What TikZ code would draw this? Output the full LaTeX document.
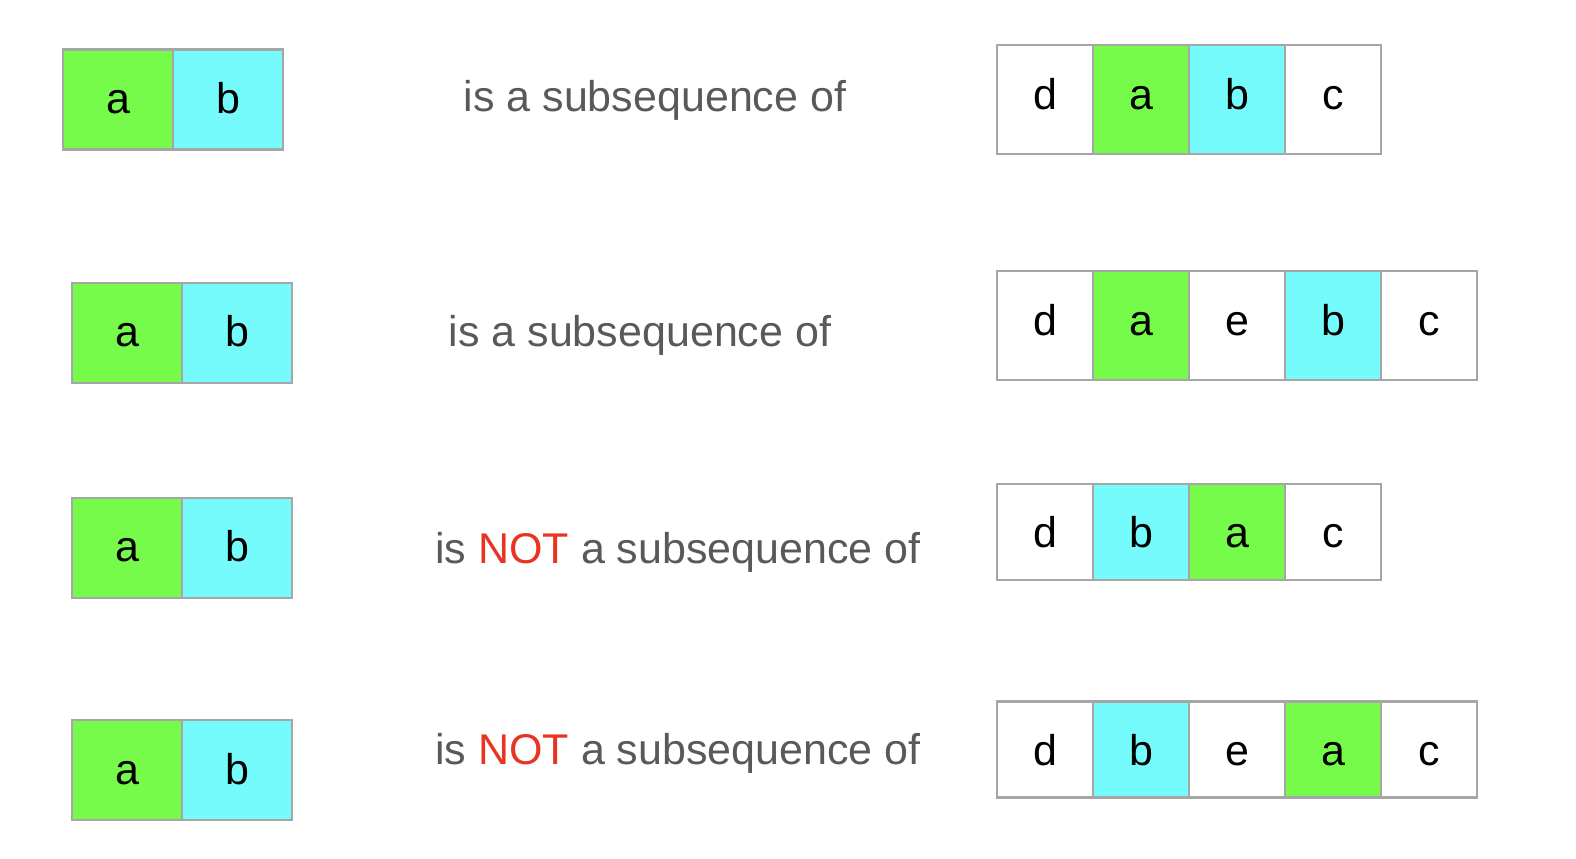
\documentclass[tikz,border=0pt]{standalone}
\usepackage{fontspec}
\setmainfont{Liberation Sans}
\usetikzlibrary{positioning}
\definecolor{edge}{HTML}{A6A6A6}
\definecolor{grn}{HTML}{76FB4B}
\definecolor{cyn}{HTML}{76FBFD}
\definecolor{say}{HTML}{595959}
\definecolor{nope}{HTML}{E93323}
\begin{document}
\begin{tikzpicture}[
	x=0.5pt, y=-0.5pt,
	font=\fontsize{21.5pt}{26pt}\selectfont,
	cell/.style={draw=edge, line width=1.2pt, outer sep=0pt, inner sep=0pt, text height=24pt},
	lft/.style={cell, minimum width=55pt, minimum height=50pt, text depth=10pt},
	tall/.style={cell, minimum width=48pt, minimum height=54.5pt, text depth=14pt},
	low/.style={cell, minimum width=48pt, minimum height=48pt, text depth=8.4pt},
	ga/.style={fill=grn},
	cb/.style={fill=cyn},
	says/.style={anchor=base, text=say, inner sep=0pt},
	]
\useasboundingbox (0,0) rectangle (1576,858);
% row 1
\node [lft, ga] (p1a) at (118,99.5) {a};
\node [lft, cb, right=0pt of p1a] (p1b) {b};
\node [says] (t1) at (655,111.7) {is a subsequence of};
\node [tall] (q1d) at (1045,99.5) {d};
\node [tall, ga, right=0pt of q1d] (q1a) {a};
\node [tall, cb, right=0pt of q1a] (q1b) {b};
\node [tall, right=0pt of q1b] (q1c) {c};
% row 2
\node [lft, ga] (p2a) at (127,332.7) {a};
\node [lft, cb, right=0pt of p2a] (p2b) {b};
\node [says] (t2) at (640,346.7) {is a subsequence of};
\node [tall] (q2d) at (1045,325.5) {d};
\node [tall, ga, right=0pt of q2d] (q2a) {a};
\node [tall, right=0pt of q2a] (q2e) {e};
\node [tall, cb, right=0pt of q2e] (q2b) {b};
\node [tall, right=0pt of q2b] (q2c) {c};
% row 3
\node [lft, ga] (p3a) at (127,547.7) {a};
\node [lft, cb, right=0pt of p3a] (p3b) {b};
\node [says] (t3) at (678,563) {is \textcolor{nope}{NOT} a subsequence of};
\node [low] (q3d) at (1045,532) {d};
\node [low, cb, right=0pt of q3d] (q3b) {b};
\node [low, ga, right=0pt of q3b] (q3a) {a};
\node [low, right=0pt of q3a] (q3c) {c};
% row 4
\node [lft, ga] (p4a) at (127,770) {a};
\node [lft, cb, right=0pt of p4a] (p4b) {b};
\node [says] (t4) at (678,764) {is \textcolor{nope}{NOT} a subsequence of};
\node [low] (q4d) at (1045,749.5) {d};
\node [low, cb, right=0pt of q4d] (q4b) {b};
\node [low, right=0pt of q4b] (q4e) {e};
\node [low, ga, right=0pt of q4e] (q4a) {a};
\node [low, right=0pt of q4a] (q4c) {c};
\end{tikzpicture}
\end{document}
